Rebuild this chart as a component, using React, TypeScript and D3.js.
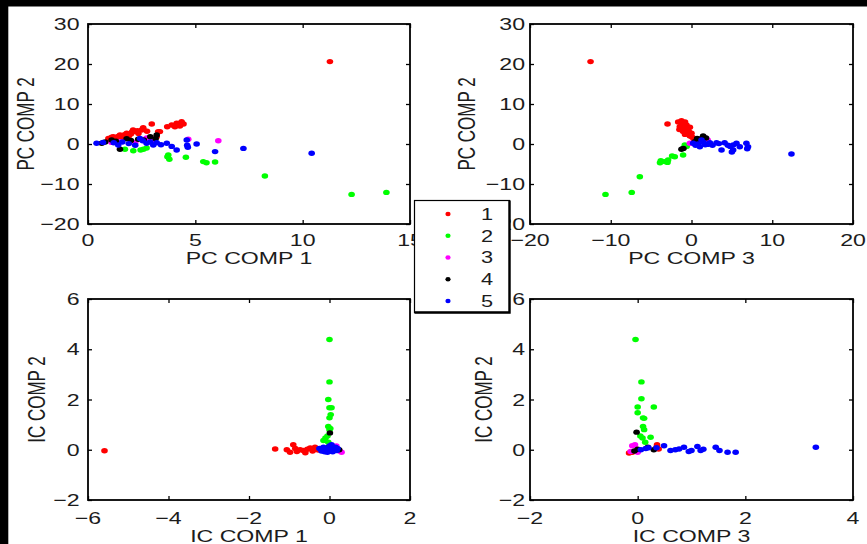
import React, { useEffect, useRef } from "react";
import * as d3 from "d3";

// class labels / colours (MATLAB default . markers)
const classes = ["1", "2", "3", "4", "5"];
const colours = ["#ff0000", "#00ff00", "#ff00ff", "#000000", "#0000ff"];

// PC COMP 1 vs PC COMP 2
const pc12Class1 = [[0.95,1.4],[1.05,1.0],[1.1,1.7],[1.18,1.8],[1.3,1.3],[1.4,1.9],[1.49,2.25],[1.6,1.6],[1.7,2.3],[1.8,2.7],[1.9,2.0],[2.0,2.5],[2.05,3.0],[2.1,3.5],[2.19,3.1],[2.3,3.3],[2.35,2.6],[2.5,3.5],[2.57,4.1],[2.58,3.7],[2.75,3.2],[2.97,5.0],[3.27,3.1],[3.35,3.1],[3.2,1.8],[3.69,4.3],[3.9,4.75],[4.05,4.3],[4.13,5.2],[4.28,4.5],[4.36,5.6],[4.45,5.0],[11.27,20.6]];
const pc12Class2 = [[1.72,-1.3],[2.11,-1.7],[2.45,-1.5],[2.58,-1.3],[2.73,-1.0],[3.7,-3.2],[3.74,-2.75],[3.79,-3.8],[4.56,-3.3],[5.37,-4.4],[5.52,-4.7],[5.92,-4.5],[8.24,-8.0],[12.28,-12.6],[13.9,-12.1]];
const pc12Class3 = [[1.1,0.4],[1.5,0.6],[2.2,0.3],[2.73,1.5],[3.0,0.8],[4.67,1.2],[6.07,0.8]];
const pc12Class4 = [[0.64,0.2],[0.8,0.5],[1.1,1.0],[1.3,0.7],[1.49,-1.3],[1.8,1.3],[2.0,0.9],[2.34,1.2],[2.6,1.0],[2.9,1.8],[3.15,1.3],[3.2,2.25]];
const pc12Class5 = [[0.4,0.2],[0.7,0.4],[1.2,0.3],[1.41,-0.25],[1.6,0.5],[1.9,0.1],[2.2,-0.3],[2.42,1.4],[2.55,0.8],[2.73,0.2],[2.9,0.5],[3.04,-0.25],[3.2,0.3],[3.4,-0.2],[3.67,0.2],[3.9,-0.6],[4.13,-1.5],[4.6,1.0],[4.62,-0.3],[4.65,-0.8],[5.06,0],[5.92,-1.9],[7.24,-1.1],[10.42,-2.3]];

// PC COMP 3 vs PC COMP 2
const pc32Class1 = [[-12.5,20.6],[-2.97,5.0],[-1.65,5.5],[-1.24,5.8],[-1.2,4.9],[-0.8,5.5],[-1.45,4.3],[-0.62,4.75],[-0.8,3.9],[-0.2,4.2],[-0.42,3.5],[-1.04,3.1],[-1.5,3.6],[-0.6,2.9],[-0.3,3.0],[0,2.7],[-0.8,2.4],[-0.2,2.0],[0.1,1.7],[0.3,1.2]];
const pc32Class2 = [[-0.83,-0.25],[-0.6,-0.6],[-1.0,-1.0],[-1.04,-2.75],[-2.07,-3.2],[-2.4,-3.0],[-2.9,-4.0],[-2.97,-4.6],[-3.3,-4.4],[-3.8,-4.2],[-3.9,-4.7],[-6.4,-8.2],[-7.4,-12.1],[-10.65,-12.6]];
const pc32Class3 = [[-0.2,0.2],[0.3,0.3],[0.8,0.6],[1.7,1.5],[2.0,1.0]];
const pc32Class4 = [[-1.24,-1.3],[-1.0,-1.1],[0.41,0.6],[0.7,1.4],[0.9,1.1],[1.2,1.3],[1.44,2.0],[1.8,1.5]];
const pc32Class5 = [[0.2,0.2],[0.5,-0.3],[0.8,0.0],[1.03,-0.7],[1.24,1.0],[1.5,0.4],[1.7,-0.2],[2.0,-0.1],[2.27,0.3],[2.6,-0.3],[3.1,0.3],[3.4,0.1],[3.72,-1.5],[4.1,0.3],[4.5,-0.3],[4.8,-0.6],[5.16,-0.25],[5.16,-1.5],[5.0,-2.0],[5.57,0.2],[5.98,-0.7],[6.8,0.2],[7.0,-0.7],[6.9,-1.2],[12.38,-2.5]];

// IC COMP 1 vs IC COMP 2
const ic12Class1 = [[-5.59,-0.04],[-1.35,0.03],[-1.06,0],[-0.98,-0.1],[-0.9,0.2],[-0.85,0.05],[-0.81,-0.07],[-0.73,0],[-0.65,-0.03],[-0.6,-0.12],[-0.55,0.02],[-0.48,0.07],[-0.42,-0.05],[-0.36,0.1],[-0.3,0.0],[-0.27,0],[-0.2,0.05]];
const ic12Class2 = [[0,4.39],[0,2.7],[-0.03,2.0],[0,1.67],[0.05,1.67],[0.03,1.4],[0,1.27],[-0.03,0.93],[0.02,0.85],[0,0.8],[-0.05,0.55],[-0.1,0.47],[-0.15,0.37],[-0.03,0.3]];
const ic12Class3 = [[0.3,-0.1],[0.17,0.15],[0.25,-0.05]];
const ic12Class4 = [[0.01,0.67],[0.24,0],[-0.02,0.1]];
const ic12Class5 = [[-0.25,0.05],[-0.2,-0.05],[-0.15,0.1],[-0.12,-0.08],[-0.1,0],[-0.05,-0.1],[-0.03,0.05],[0,0.15],[0.02,-0.05],[0.05,0.08],[0.05,0.2],[0.08,-0.08],[0.1,0.02],[0.15,0.1],[0.18,-0.03],[0.2,0.05]];

// IC COMP 3 vs IC COMP 2
const ic32Class1 = [[0.36,0.2],[-0.16,-0.13],[0.39,0.03],[-0.1,-0.1],[0.35,0.1]];
const ic32Class2 = [[-0.04,4.39],[0.07,2.7],[0.07,2.03],[0,1.7],[0.3,1.7],[0,1.47],[0.1,1.27],[0.12,1.25],[0.1,0.93],[0.12,0.8],[0.05,0.55],[0.09,0.47],[0.24,0.5],[0.14,0.3]];
const ic32Class3 = [[-0.1,0.16],[-0.13,-0.07],[-0.05,0.2],[0.0,-0.1]];
const ic32Class4 = [[-0.02,0.7],[0.3,0],[0.19,0.1],[-0.06,-0.05],[0,0.02]];
const ic32Class5 = [[0.06,0],[0.15,0.05],[0.2,0.08],[0.35,0.08],[0.49,0.16],[0.61,-0.03],[0.7,0.0],[0.77,0.03],[0.86,0.1],[0.95,-0.07],[1.0,-0.03],[1.11,0.13],[1.17,-0.03],[1.22,0.02],[1.45,0.1],[1.52,-0.03],[1.67,-0.1],[1.82,-0.1],[3.31,0.1]];

const panels = [
  { xLabel: "PC COMP 1", yLabel: "PC COMP 2", xDomain: [0, 15], yDomain: [-20, 30], xTicks: [0, 5, 10, 15], yTicks: [-20, -10, 0, 10, 20, 30],
    series: [pc12Class1, pc12Class2, pc12Class3, pc12Class4, pc12Class5] },
  { xLabel: "PC COMP 3", yLabel: "PC COMP 2", xDomain: [-20, 20], yDomain: [-20, 30], xTicks: [-20, -10, 0, 10, 20], yTicks: [-20, -10, 0, 10, 20, 30],
    series: [pc32Class1, pc32Class2, pc32Class3, pc32Class4, pc32Class5] },
  { xLabel: "IC COMP 1", yLabel: "IC COMP 2", xDomain: [-6, 2], yDomain: [-2, 6], xTicks: [-6, -4, -2, 0, 2], yTicks: [-2, 0, 2, 4, 6],
    series: [ic12Class1, ic12Class2, ic12Class3, ic12Class4, ic12Class5] },
  { xLabel: "IC COMP 3", yLabel: "IC COMP 2", xDomain: [-2, 4], yDomain: [-2, 6], xTicks: [-2, 0, 2, 4], yTicks: [-2, 0, 2, 4, 6],
    series: [ic32Class1, ic32Class2, ic32Class3, ic32Class4, ic32Class5] }
];

const W = 867;
const H = 544;
const SX = 1.36; // the figure is stretched sideways
const FONT = "'Liberation Sans', Arial, Helvetica, sans-serif";

// pixel boxes for the 2x2 grid
const boxes = [
  { l: 88, r: 410, t: 24, b: 224, yLabX: 33.5, tickGap: 8.5, xTickY: 245.5, xLabY: 263.5 },
  { l: 530, r: 853, t: 24, b: 224, yLabX: 475, tickGap: 5, xTickY: 245.5, xLabY: 263.5 },
  { l: 88, r: 410, t: 299, b: 500, yLabX: 45, tickGap: 8.5, xTickY: 523.5, xLabY: 541.5 },
  { l: 530, r: 853, t: 299, b: 500, yLabX: 491.5, tickGap: 5, xTickY: 523.5, xLabY: 541.5 }
];

function addText(g, x, y, str, anchor, rotate = false, size = 17) {
  return g
    .append("text")
    .attr("transform", `translate(${x},${y}) scale(${SX},1)` + (rotate ? " rotate(-90)" : ""))
    .attr("text-anchor", anchor)
    .attr("font-family", FONT)
    .attr("font-size", size)
    .attr("fill", "#1c1c1c")
    .text(str);
}

export default function App() {
  const svgRef = useRef(null);

  useEffect(() => {
    const svg = d3.select(svgRef.current);
    svg.selectAll("*").remove();

    svg.append("rect").attr("width", W).attr("height", H).attr("fill", "#fff");
    svg.append("rect").attr("width", W).attr("height", 6.5).attr("fill", "#000");
    svg.append("rect").attr("width", 8.3).attr("height", H).attr("fill", "#000");

    const fmt = d3.format("");

    panels.forEach((p, i) => {
      const b = boxes[i];
      const x = d3.scaleLinear().domain(p.xDomain).range([b.l, b.r]);
      const y = d3.scaleLinear().domain(p.yDomain).range([b.b, b.t]);
      const g = svg.append("g");

      // inward ticks on all four sides
      const axes = [
        { ax: d3.axisBottom(x).tickValues(p.xTicks), tr: `translate(0,${b.b})` },
        { ax: d3.axisTop(x).tickValues(p.xTicks), tr: `translate(0,${b.t})` },
        { ax: d3.axisLeft(y).tickValues(p.yTicks), tr: `translate(${b.l},0)` },
        { ax: d3.axisRight(y).tickValues(p.yTicks), tr: `translate(${b.r},0)` }
      ];
      axes.forEach(a => {
        const ag = g
          .append("g")
          .attr("transform", a.tr)
          .call(a.ax.tickSizeInner(-4).tickSizeOuter(0).tickFormat(() => ""));
        ag.select(".domain").remove();
        ag.selectAll("line").attr("stroke", "#000").attr("stroke-width", 1.3);
      });

      g.append("rect")
        .attr("x", b.l)
        .attr("y", b.t)
        .attr("width", b.r - b.l)
        .attr("height", b.b - b.t)
        .attr("fill", "none")
        .attr("stroke", "#000")
        .attr("stroke-width", 1.8);

      // points, classes drawn in order 1..5
      p.series.forEach((pts, k) => {
        g.append("g")
          .selectAll("ellipse")
          .data(pts)
          .enter()
          .append("ellipse")
          .attr("cx", d => x(d[0]))
          .attr("cy", d => y(d[1]))
          .attr("rx", 3.3)
          .attr("ry", 2.7)
          .attr("fill", colours[k]);
      });

      // tick labels
      p.xTicks.forEach(v => addText(g, x(v), b.xTickY, fmt(v), "middle"));
      p.yTicks.forEach(v =>
        addText(g, b.l - b.tickGap, y(v), fmt(v), "end").attr("dy", "0.36em")
      );

      addText(g, (b.l + b.r) / 2, b.xLabY, p.xLabel, "middle");
      addText(g, b.yLabX, (b.t + b.b) / 2, p.yLabel, "middle", true);
    });

    // legend on top of everything
    const lg = svg.append("g");
    lg.append("rect")
      .attr("x", 414.5)
      .attr("y", 200.5)
      .attr("width", 95)
      .attr("height", 112)
      .attr("fill", "#fff")
      .attr("stroke", "#000")
      .attr("stroke-width", 1.2);
    lg.append("path")
      .attr("d", "M509.5,200.5V312.5H414.5")
      .attr("fill", "none")
      .attr("stroke", "#000")
      .attr("stroke-width", 2.4);
    const rowY = d3.scaleLinear().domain([0, classes.length - 1]).range([214, 301]);
    classes.forEach((c, k) => {
      lg.append("ellipse")
        .attr("cx", 448)
        .attr("cy", rowY(k))
        .attr("rx", 2.6)
        .attr("ry", 2.2)
        .attr("fill", colours[k]);
      addText(lg, 487, rowY(k), c, "middle", false, 16).attr("dy", "0.36em");
    });
  }, []);

  return (
    <svg
      ref={svgRef}
      width={W}
      height={H}
      style={{ position: "absolute", left: 0, top: 0, display: "block" }}
    />
  );
}
